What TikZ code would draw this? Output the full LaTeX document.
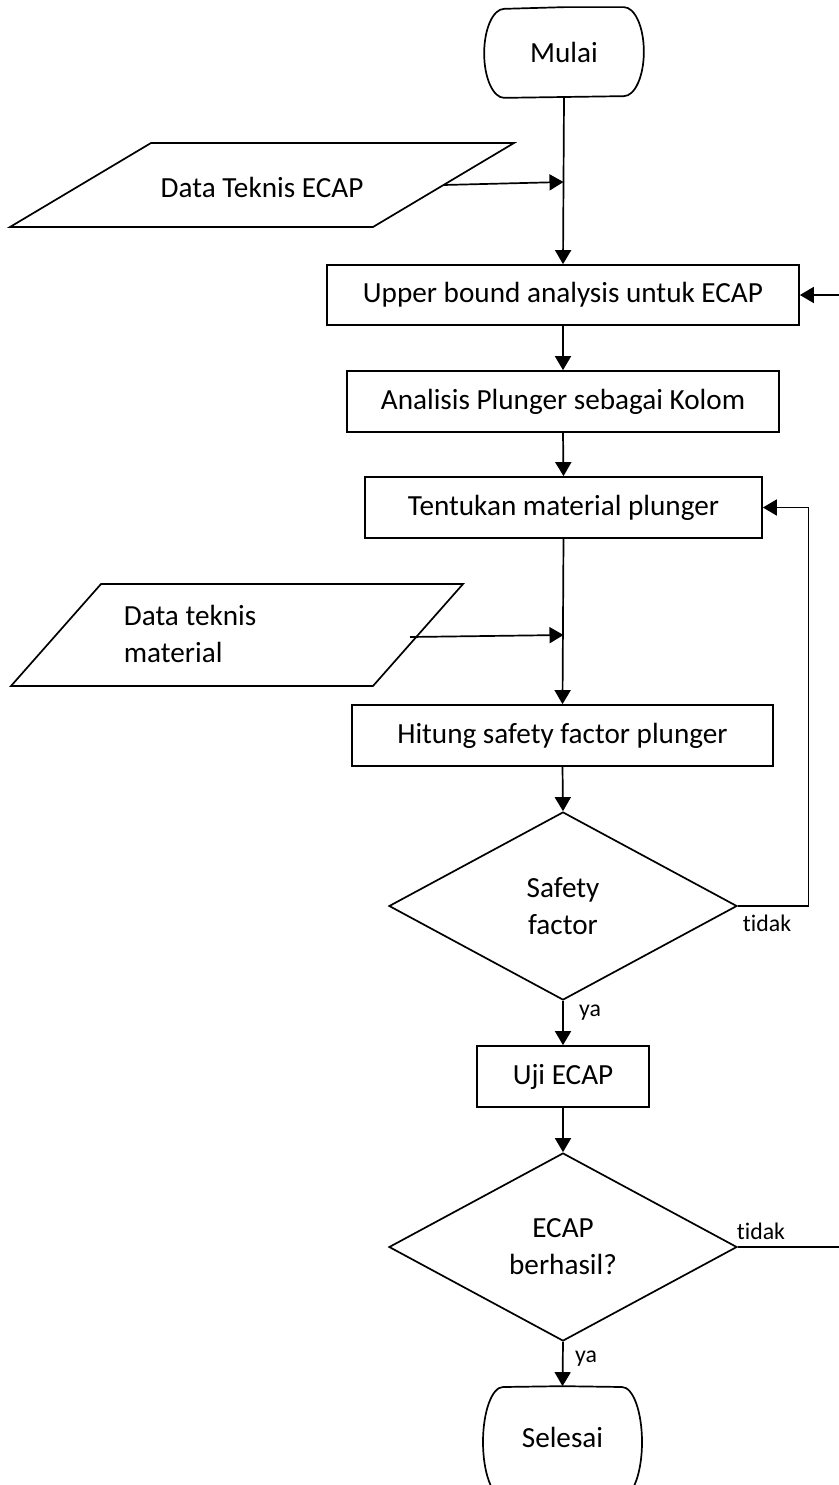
\documentclass[tikz,border=0pt]{standalone}
\usepackage{fontspec}
\setmainfont{Carlito}[Ligatures=NoCommon]
\usetikzlibrary{shapes.geometric,arrows.meta}
\begin{document}
\begin{tikzpicture}[x=1pt,y=-1pt,
  line width=1.7pt,
  every node/.style={inner sep=0pt, font=\fontsize{29.2}{37}\selectfont},
  procbox/.style={draw, rectangle, minimum height=61pt},
  decbox/.style={draw, diamond, minimum width=348pt, minimum height=188pt, align=center},
  lbl/.style={font=\fontsize{23.8}{28}\selectfont},
  arr/.style={-{Triangle[length=14pt,width=16pt]}},
  outline/.style={line width=1.7pt, line join=round}]
\useasboundingbox (0,0) rectangle (838,1485);

% start terminal
\node[minimum width=158pt, minimum height=89pt] (start) at (564,52.5) {Mulai};
\draw[outline] (start.north) -- ([xshift=-20pt]start.north east)
  arc[start angle=90, end angle=-90, x radius=20pt, y radius=44.5pt]
  -- ([xshift=20pt]start.south west)
  arc[start angle=270, end angle=90, x radius=20pt, y radius=44.5pt] -- cycle;

% input 1
\node (in1) at (262,187) {Data Teknis ECAP};
\draw[outline, line join=miter] (151,143) -- (514,143) -- (373,227) -- (10,227) -- cycle;
\coordinate (in1e) at (443.5,185);
\coordinate (j1) at (563.5,182);

% process boxes
\node[procbox, minimum width=472pt, minimum height=60pt] (upper) at (563,295) {Upper bound analysis untuk ECAP};
\node[procbox, minimum width=432pt] (anal) at (563,401.5) {Analisis Plunger sebagai Kolom};
\node[procbox, minimum width=397pt] (tent) at (563.5,507.5) {Tentukan material plunger};

% input 2
\node[align=left, anchor=west] (in2) at (123,634) {Data teknis\\material};
\draw[outline, line join=miter] (101,584) -- (463,584) -- (373,686) -- (11,686) -- cycle;
\coordinate (in2e) at (410,637);
\coordinate (j2) at (563.5,635);

\node[procbox, minimum width=421pt] (hit) at (562.5,735.5) {Hitung safety factor plunger};
\node[decbox] (d1) at (563,906) {Safety\\factor};
\node[procbox, minimum width=172pt] (uji) at (563,1076.5) {Uji ECAP};
\node[decbox] (d2) at (563,1247) {ECAP\\berhasil?};

% end terminal
\node[minimum width=159pt, minimum height=110pt] (end) at (562.5,1442) {\raisebox{9pt}{Selesai}};
\draw[outline] (end.north) -- (622,1387)
  arc[start angle=90, end angle=-90, x radius=20pt, y radius=55pt]
  -- (503,1497)
  arc[start angle=270, end angle=90, x radius=20pt, y radius=55pt] -- cycle;

% connectors
\draw[arr] (start.south) -- (upper.north);
\draw[arr] (in1e) -- (j1);
\draw[arr] (upper.south) -- (anal.north);
\draw[arr] (anal.south) -- (tent.north);
\draw[arr] (tent.south) -- (hit.north);
\draw[arr] (in2e) -- (j2);
\draw[arr] (hit.south) -- (d1.north);
\draw[arr] (d1.south) -- (uji.north);
\draw[arr] (uji.south) -- (d2.north);
\draw[arr] (d2.south) -- (end.north);
\draw[arr] (d1.east) -- (808.5,906) |- (tent.east);
\draw[arr] (d2.east) -- (850,1247) |- (upper.east);

% labels
\node[lbl] (t1) at (767,923) {tidak};
\node[lbl] (y1) at (590,1013) {ya};
\node[lbl] (t2) at (761,1231) {tidak};
\node[lbl] (y2) at (586,1359) {ya};
\end{tikzpicture}
\end{document}
